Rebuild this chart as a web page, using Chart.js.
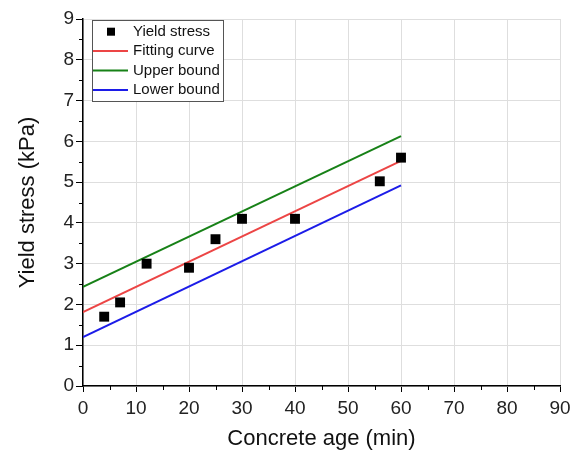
<!DOCTYPE html>
<html>
<head>
<meta charset="utf-8">
<script src="https://cdn.jsdelivr.net/npm/chart.js@4.4.1/dist/chart.umd.min.js"></script>
<style>
  html, body { margin: 0; padding: 0; background: #fff; }
  #chart { display: block; }
</style>
</head>
<body>
<canvas id="chart" width="571" height="455"></canvas>
<script>
// measured yield stress
const ageMin = [4, 7, 12, 20, 25, 30, 40, 56, 60];
const stressKPa = [1.70, 2.05, 3.00, 2.90, 3.60, 4.10, 4.10, 5.02, 5.60];

// fitted line and its bounds (end points)
const lineX = [0, 60];
const fitY = [1.81, 5.52];
const upperY = [2.43, 6.13];
const lowerY = [1.20, 4.92];

const xTicks = [0, 10, 20, 30, 40, 50, 60, 70, 80, 90];
const yTicks = [0, 1, 2, 3, 4, 5, 6, 7, 8, 9];

const FONT = '"Liberation Sans", Arial, sans-serif';

const pts = (xs, ys) => xs.map((x, i) => ({ x: x, y: ys[i] }));

// short minor ticks halfway between the major ones
const minorTicks = {
    id: 'minorTicks',
    afterDraw(chart) {
        const ctx = chart.ctx;
        const xs = chart.scales.x, ys = chart.scales.y;
        ctx.save();
        ctx.strokeStyle = '#000';
        ctx.lineWidth = 1;
        ctx.beginPath();
        for (let i = 0; i < xTicks.length - 1; i++) {
            const px = Math.round(xs.getPixelForValue((xTicks[i] + xTicks[i + 1]) / 2)) + 0.5;
            ctx.moveTo(px, ys.bottom);
            ctx.lineTo(px, ys.bottom + 4);
        }
        for (let i = 0; i < yTicks.length - 1; i++) {
            const py = Math.round(ys.getPixelForValue((yTicks[i] + yTicks[i + 1]) / 2)) + 0.5;
            ctx.moveTo(xs.left, py);
            ctx.lineTo(xs.left - 4, py);
        }
        ctx.stroke();
        ctx.restore();
    }
};

// boxed legend in the upper left corner of the plot
const boxLegend = {
    id: 'boxLegend',
    afterDatasetsDraw(chart) {
        const ctx = chart.ctx;
        const area = chart.chartArea;
        const left = area.left + 9, top = area.top + 1;
        const w = 131, h = 81, row = 19.4;
        ctx.save();
        ctx.fillStyle = '#fff';
        ctx.fillRect(left, top, w, h);
        ctx.strokeStyle = '#555';
        ctx.lineWidth = 1;
        ctx.strokeRect(Math.round(left) + 0.5, Math.round(top) + 0.5, w, h);
        ctx.font = '15px ' + FONT;
        ctx.textBaseline = 'middle';
        chart.data.datasets.forEach((ds, i) => {
            const cy = top + 11.7 + i * row;
            if (ds.showLine === false) {
                ctx.fillStyle = ds.backgroundColor;
                ctx.fillRect(left + 15, cy - 4, 8, 8);
            } else {
                ctx.strokeStyle = ds.borderColor;
                ctx.lineWidth = 2;
                ctx.beginPath();
                ctx.moveTo(left + 1, cy);
                ctx.lineTo(left + 36, cy);
                ctx.stroke();
            }
            ctx.fillStyle = '#111';
            ctx.fillText(ds.label, left + 41, cy);
        });
        ctx.restore();
    }
};

new Chart(document.getElementById('chart'), {
    type: 'scatter',
    data: {
        datasets: [
            {
                label: 'Yield stress',
                data: pts(ageMin, stressKPa),
                showLine: false,
                pointStyle: 'rect',
                pointRadius: 7,
                borderWidth: 0,
                backgroundColor: '#000',
                borderColor: '#000'
            },
            {
                label: 'Fitting curve',
                data: pts(lineX, fitY),
                showLine: true,
                pointRadius: 0,
                borderWidth: 2,
                borderColor: '#ec4545'
            },
            {
                label: 'Upper bound',
                data: pts(lineX, upperY),
                showLine: true,
                pointRadius: 0,
                borderWidth: 2,
                borderColor: '#178117'
            },
            {
                label: 'Lower bound',
                data: pts(lineX, lowerY),
                showLine: true,
                pointRadius: 0,
                borderWidth: 2,
                borderColor: '#1c1ce8'
            }
        ]
    },
    options: {
        responsive: false,
        animation: false,
        layout: { padding: { top: 19, right: 11, left: 0, bottom: 0 } },
        plugins: {
            legend: { display: false },
            tooltip: { enabled: false }
        },
        scales: {
            x: {
                type: 'linear',
                min: 0, max: 90,
                afterFit(scale) {
                    scale.height = 69;
                    // let the last label hang past the plot edge
                    scale.paddingLeft = 0;
                    scale.paddingRight = 0;
                },
                afterBuildTicks(scale) { scale.ticks = xTicks.map(v => ({ value: v })); },
                ticks: { color: '#222', padding: 5, font: { family: FONT, size: 19 } },
                grid: { color: '#dedede', lineWidth: 1, tickColor: '#000', tickLength: 6 },
                border: { color: '#000', width: 1.5 },
                title: {
                    display: true,
                    text: 'Concrete age (min)',
                    color: '#111',
                    font: { family: FONT, size: 22 },
                    padding: { top: 0, bottom: 3 }
                }
            },
            y: {
                type: 'linear',
                min: 0, max: 9,
                afterFit(scale) {
                    scale.width = 83;
                    scale.paddingTop = 0;
                    scale.paddingBottom = 0;
                },
                afterBuildTicks(scale) { scale.ticks = yTicks.map(v => ({ value: v })); },
                ticks: { color: '#222', padding: 2, font: { family: FONT, size: 19 } },
                grid: { color: '#dedede', lineWidth: 1, tickColor: '#000', tickLength: 7 },
                border: { color: '#000', width: 1.5 },
                title: {
                    display: true,
                    text: 'Yield stress (kPa)',
                    color: '#111',
                    font: { family: FONT, size: 22 },
                    padding: { top: 15, bottom: 0 }
                }
            }
        }
    },
    plugins: [minorTicks, boxLegend]
});
</script>
</body>
</html>
